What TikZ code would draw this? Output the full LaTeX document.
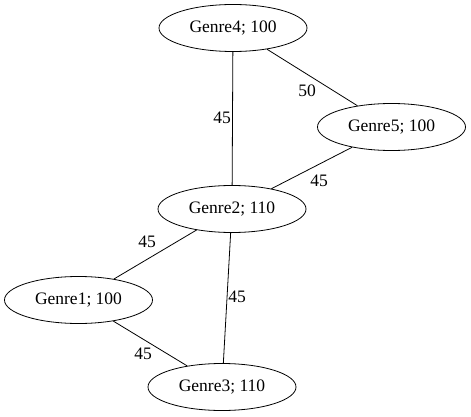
\documentclass[tikz,border=0pt]{standalone}
\usepackage{fontspec}
\setmainfont{Liberation Serif}
\usetikzlibrary{shapes.geometric}

\begin{document}
\begin{tikzpicture}[x=1pt, y=-1pt,
                genre/.style={ellipse, draw, thick, minimum width=148pt, minimum height=47pt,
                              inner sep=0pt, font=\fontsize{17.5}{20}\selectfont},
                weight/.style={inner sep=1pt, font=\fontsize{17.5}{20}\selectfont},
                every edge/.style={draw, thick}]
                
                \useasboundingbox (0,0) rectangle (471,417);
                
                \node[genre] (G4) at (233,28) {Genre4; 100};
                \node[genre] (G5) at (391.5,127) {Genre5; 100};
                \node[genre] (G2) at (232,209) {Genre2; 110};
                \node[genre] (G1) at (78.5,300) {Genre1; 100};
                \node[genre] (G3) at (222,387) {Genre3; 110};
                
                % weights of the links
                \node[weight] (W42) at (222,118) {45};
                \node[weight] (W45) at (307,91) {50};
                \node[weight] (W52) at (319,181) {45};
                \node[weight] (W21) at (147,242) {45};
                \node[weight] (W23) at (237,297) {45};
                \node[weight] (W13) at (143,354) {45};
                
                \path
                    (G4) edge (G2) % Genre4 to Genre2
                    (G4) edge (G5) % Genre4 to Genre5
                    (G5) edge (G2) % Genre5 to Genre2
                    (G2) edge (G1) % Genre2 to Genre1
                    (G2) edge (G3) % Genre2 to Genre3
                    (G1) edge (G3); % Genre1 to Genre3
                
\end{tikzpicture}
\end{document}
